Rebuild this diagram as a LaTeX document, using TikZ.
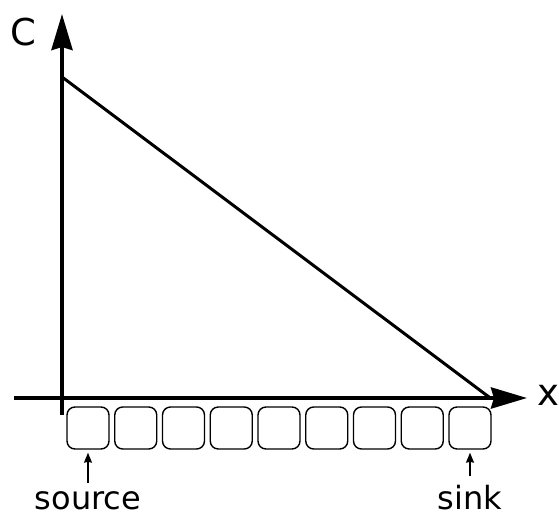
\documentclass[tikz,border=0pt]{standalone}
\usepackage{fontspec}
\setmainfont{DejaVu Sans}
\usepackage{tikz}
\usetikzlibrary{arrows.meta,positioning,calc}

\begin{document}
\begin{tikzpicture}[x=1pt,y=-1pt,line join=miter,
  every node/.style={inner sep=0}]
\tikzstyle{axis}=[line width=4pt,-{Stealth[length=36pt,width=21pt,inset=3pt]}]
\tikzstyle{cell}=[draw,line width=1.4pt,rounded corners=8pt,minimum width=42pt,minimum height=42pt]
\tikzstyle{lbl}=[font=\fontsize{32}{36}\selectfont,anchor=base]
\tikzstyle{ptr}=[line width=1.4pt,-{Stealth[length=10pt,width=8pt,inset=1pt]}]
\useasboundingbox (0,0) rectangle (559,516);
% axes
\coordinate (o1) at (14,398);
\coordinate (xend) at (527,398);
\coordinate (o2) at (62,415);
\coordinate (yend) at (62,14);
\draw[axis] (o1) -- (xend);
\draw[axis] (o2) -- (yend);
\node[font=\fontsize{37}{40}\selectfont] (clbl) at (23,32) {C};
\node[font=\fontsize{37}{40}\selectfont] (xlbl) at (548,395) {x};
% concentration profile
\coordinate (top) at (62,77);
\coordinate (bot) at (489,397);
\draw[line width=3pt] (top) -- (bot);
% cells
\foreach \i in {1,...,9}
  \node[cell] (c\i) at ({88+47.75*(\i-1)},428) {};
\node[lbl] (source) at (88,509) {source};
\node[lbl] (sink) at (470,509) {sink};
\draw[ptr,shorten <=8pt,shorten >=3pt] (source) -- (c1);
\draw[ptr,shorten <=8pt,shorten >=3pt] (sink) -- (c9);
\end{tikzpicture}
\end{document}
